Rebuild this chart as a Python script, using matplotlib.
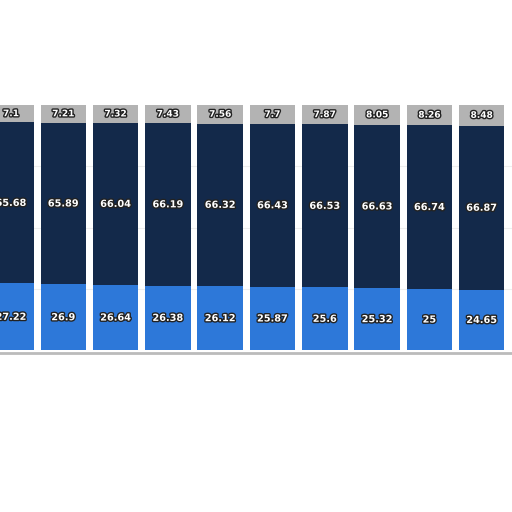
import numpy as np
import matplotlib.pyplot as plt
import matplotlib.patheffects as pe

bottom_vals = [27.22, 26.9, 26.64, 26.38, 26.12, 25.87, 25.6, 25.32, 25, 24.65]
middle_vals = [65.68, 65.89, 66.04, 66.19, 66.32, 66.43, 66.53, 66.63, 66.74, 66.87]
top_vals = [7.1, 7.21, 7.32, 7.43, 7.56, 7.7, 7.87, 8.05, 8.26, 8.48]


def main():
    x = np.arange(len(bottom_vals))
    b = np.array(bottom_vals)
    m = np.array(middle_vals)
    t = np.array(top_vals)

    fig = plt.figure(figsize=(5.12, 5.12), dpi=100)
    ax = fig.add_axes([0, 0.316, 1, 0.479])
    ax.set_xlim(-0.21, 9.58)
    ax.set_ylim(0, 100)
    for yy in [25, 50, 75]:
        ax.axhline(yy, color='#eeeeee', lw=0.8, zorder=0)
    w = 0.87
    ax.bar(x, b, w, color='#2d78d9', zorder=2)
    ax.bar(x, m, w, bottom=b, color='#13294a', zorder=2)
    ax.bar(x, t, w, bottom=b + m, color='#b3b3b3', zorder=2)

    fx = [pe.withStroke(linewidth=2, foreground='#222222')]
    for i in x:
        ax.text(i, b[i] / 2, f'{b[i]:g}', ha='center', va='center', color='white',
                fontsize=7, fontweight='bold', path_effects=fx, zorder=3)
        ax.text(i, b[i] + m[i] / 2, f'{m[i]:g}', ha='center', va='center', color='white',
                fontsize=7, fontweight='bold', path_effects=fx, zorder=3)
        ax.text(i, b[i] + m[i] + t[i] / 2, f'{t[i]:g}', ha='center', va='center', color='white',
                fontsize=6.5, fontweight='bold', path_effects=fx, zorder=3)
    ax.axis('off')
    fig.add_artist(plt.Line2D([0, 1], [0.31, 0.31], color='#bbbbbb', lw=2))
    fig.savefig('out.png', dpi=100)


if __name__ == "__main__":
    main()
